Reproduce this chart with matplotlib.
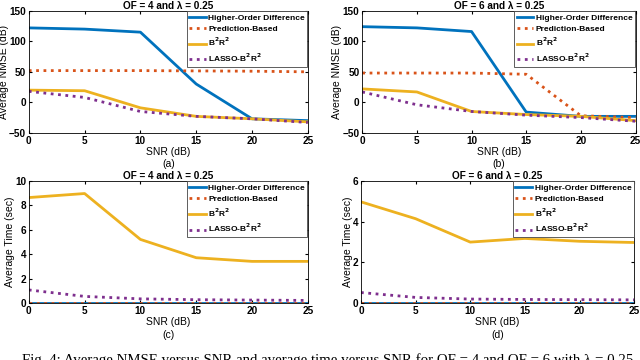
import numpy as np
import matplotlib
matplotlib.use("Agg")
import matplotlib.pyplot as plt

# SNR grid shared by all panels
snr = [0, 5, 10, 15, 20, 25]
labels = ["Higher-Order Difference", "Prediction-Based", r"B$^\mathbf{2}$R$^\mathbf{2}$", r"LASSO-B$^\mathbf{2}$R$^\mathbf{2}$"]

# NMSE (dB), OF = 4
nmse4_hod = [122, 120, 115, 30, -27, -30]
nmse4_pred = [52, 52, 52, 51.5, 51, 50]
nmse4_b2r2 = [20, 19, -9, -23, -27, -32]
nmse4_lasso = [18, 8, -15, -23, -27, -33]

# NMSE (dB), OF = 6
nmse6_hod = [124, 122, 116, -16, -23, -23]
nmse6_pred = [48, 48, 48, 46, -22, -25]
nmse6_b2r2 = [22, 17, -15, -20, -23, -30]
nmse6_lasso = [17, -4, -15, -21, -25, -31]

# average time (sec), OF = 4
time4_hod = [0.03, 0.03, 0.03, 0.03, 0.03, 0.03]
time4_pred = [0.01, 0.01, 0.01, 0.01, 0.01, 0.01]
time4_b2r2 = [8.65, 8.98, 5.22, 3.72, 3.42, 3.42]
time4_lasso = [1.08, 0.55, 0.35, 0.28, 0.25, 0.22]

# average time (sec), OF = 6
time6_hod = [0.02, 0.02, 0.02, 0.02, 0.02, 0.02]
time6_pred = [0.01, 0.01, 0.01, 0.01, 0.01, 0.01]
time6_b2r2 = [4.98, 4.15, 3.0, 3.18, 3.04, 2.98]
time6_lasso = [0.52, 0.28, 0.2, 0.18, 0.17, 0.16]

colors = ["#0072BD", "#D95319", "#EDB120", "#7E2F8E"]
styles = ["-", ":", "-", ":"]

plt.rcParams['font.family'] = ['Liberation Sans', 'DejaVu Sans']
plt.rcParams['font.weight'] = 'bold'
plt.rcParams['mathtext.default'] = 'bf'

fig = plt.figure(figsize=(6.4, 3.6), dpi=100)

panels = [
    ([0.045, 0.631, 0.436, 0.339], [nmse4_hod, nmse4_pred, nmse4_b2r2, nmse4_lasso],
     "OF = 4 and λ = 0.25", "Average NMSE (dB)", (-50, 150), [-50, 0, 50, 100, 150], "(a)"),
    ([0.566, 0.631, 0.427, 0.339], [nmse6_hod, nmse6_pred, nmse6_b2r2, nmse6_lasso],
     "OF = 6 and λ = 0.25", "Average NMSE (dB)", (-50, 150), [-50, 0, 50, 100, 150], "(b)"),
    ([0.045, 0.158, 0.436, 0.339], [time4_hod, time4_pred, time4_b2r2, time4_lasso],
     "OF = 4 and λ = 0.25", "Average Time (sec)", (0, 10), [0, 2, 4, 6, 8, 10], "(c)"),
    ([0.564, 0.158, 0.427, 0.339], [time6_hod, time6_pred, time6_b2r2, time6_lasso],
     "OF = 6 and λ = 0.25", "Average Time (sec)", (0, 6), [0, 2, 4, 6], "(d)"),
]

for pos, series, title, ylabel, ylim, yticks, tag in panels:
    ax = fig.add_axes(pos)
    for ys, c, ls, lab in zip(series, colors, styles, labels):
        ax.plot(snr, ys, color=c, linestyle=ls, linewidth=2, label=lab)
    ax.set_xlim(0, 25)
    ax.set_ylim(*ylim)
    ax.set_xticks(snr)
    ax.set_yticks(yticks)
    ax.tick_params(direction='in', labelsize=7.2, length=2, top=True, right=True, pad=2)
    ax.set_title(title, fontsize=7.2, fontweight='bold', pad=1.5)
    ax.set_ylabel(ylabel, fontsize=7.5, labelpad=0)
    ax.set_xlabel("SNR (dB)\n" + tag, fontsize=7.5, labelpad=1, linespacing=1.3)
    for s in ax.spines.values():
        s.set_linewidth(0.6)
    leg = ax.legend(loc='upper right', fontsize=6, handlelength=2.0, handletextpad=0.3,
                    borderpad=0.3, labelspacing=0.4, fancybox=False, framealpha=1,
                    borderaxespad=0.05)
    leg.get_frame().set_edgecolor('#444444')
    leg.get_frame().set_linewidth(0.6)

fig.text(0.034, 0.019, "Fig. 4: Average NMSE versus SNR and average time versus SNR for OF = 4 and OF = 6 with λ = 0.25",
         family='Liberation Serif', fontweight='normal', fontsize=10.7, va='top', ha='left')

fig.savefig("out.png", dpi=100)
